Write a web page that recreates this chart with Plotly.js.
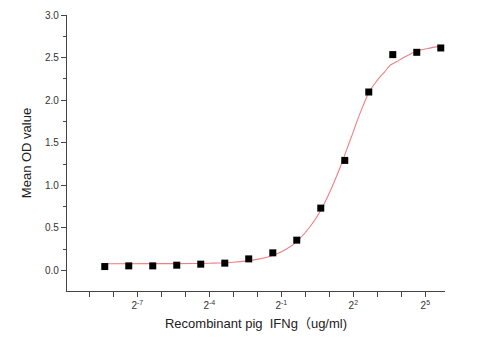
<!DOCTYPE html>
<html>
<head>
<meta charset="utf-8">
<script src="https://cdn.plot.ly/plotly-3.0.1.min.js"></script>
<style>html,body{margin:0;padding:0;background:#fff;}#chart{width:478px;height:340px;}</style>
</head>
<body>
<div id="chart"></div>
<script>
// Measured points: concentration (ug/ml) and mean OD
var concentrations = [0.00305, 0.0061, 0.0122, 0.0244, 0.0488, 0.0977, 0.195, 0.391, 0.781, 1.5625, 3.125, 6.25, 12.5, 25, 50];
var meanOD = [0.047, 0.055, 0.055, 0.063, 0.075, 0.087, 0.137, 0.208, 0.357, 0.733, 1.293, 2.096, 2.535, 2.562, 2.613];

// Fitted curve
var fitX = [0.00305, 0.0156, 0.0625, 0.125, 0.25, 0.4, 0.574, 0.78, 1.15, 1.53, 2.0, 2.73, 3.3, 3.86, 4.6, 5.28, 6.3, 7.5, 8.6, 9.85, 11.6, 13.9, 17.1, 21.1, 25, 34.3, 49];
var fitY = [0.080, 0.081, 0.086, 0.097, 0.131, 0.180, 0.249, 0.340, 0.517, 0.690, 0.910, 1.210, 1.420, 1.590, 1.790, 1.930, 2.096, 2.199, 2.270, 2.330, 2.410, 2.450, 2.500, 2.545, 2.575, 2.607, 2.635];

// x ticks: every power of two, labels every third
var xTickVals = [0.001953125, 0.00390625, 0.0078125, 0.015625, 0.03125, 0.0625, 0.125, 0.25, 0.5, 1, 2, 4, 8, 16, 32];
var xTickText = ["", "", "2<sup>-7</sup>", "", "", "2<sup>-4</sup>", "", "", "2<sup>-1</sup>", "", "", "2<sup>2</sup>", "", "", "2<sup>5</sup>"];
var yTickVals = [0, 0.5, 1.0, 1.5, 2.0, 2.5, 3.0];
var yTickText = ["0.0", "0.5", "1.0", "1.5", "2.0", "2.5", "3.0"];

var fontFam = "Liberation Sans, Arial, Noto Sans CJK SC, sans-serif";

var traces = [
  {x: fitX, y: fitY, type: "scatter", mode: "lines",
   line: {color: "#ee7f84", width: 1.1, shape: "spline", smoothing: 1},
   hoverinfo: "skip", showlegend: false},
  {x: concentrations, y: meanOD, type: "scatter", mode: "markers",
   marker: {symbol: "square", size: 7, color: "#000"}, showlegend: false}
];

var layout = {
  width: 478, height: 340,
  margin: {l: 67, r: 33, t: 15, b: 49},
  paper_bgcolor: "#fff", plot_bgcolor: "#fff",
  font: {family: fontFam, color: "#333", size: 10},
  xaxis: {
    type: "log",
    range: [Math.log10(0.001025), Math.log10(56.5)],
    tickmode: "array", tickvals: xTickVals, ticktext: xTickText,
    ticks: "outside", ticklen: 5, tickwidth: 1, tickcolor: "#444",
    showline: true, linecolor: "#444", linewidth: 1.2,
    showgrid: false, zeroline: false,
    tickfont: {size: 10, color: "#333"},
    title: {text: "Recombinant pig  IFNg\uFF08ug/ml)", font: {size: 13, color: "#222", family: fontFam}, standoff: 8}
  },
  yaxis: {
    range: [-0.24, 3.0],
    tickmode: "array", tickvals: yTickVals, ticktext: yTickText,
    ticks: "outside", ticklen: 5, tickwidth: 1, tickcolor: "#444",
    minor: {tickvals: [0.25, 0.75, 1.25, 1.75, 2.25, 2.75], ticks: "outside", ticklen: 3, tickcolor: "#444", showgrid: false},
    showline: true, linecolor: "#444", linewidth: 1.2,
    showgrid: false, zeroline: false,
    tickfont: {size: 10, color: "#333"},
    title: {text: "Mean OD value", font: {size: 13, color: "#222", family: fontFam}, standoff: 10}
  }
};

Plotly.newPlot("chart", traces, layout, {displayModeBar: false, staticPlot: true});
</script>
</body>
</html>
